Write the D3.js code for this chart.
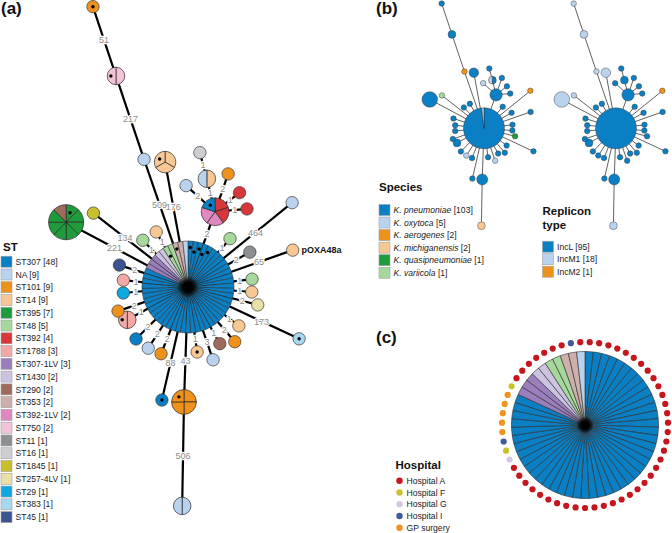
<!DOCTYPE html>
<html><head><meta charset="utf-8">
<script src="https://cdn.jsdelivr.net/npm/d3@7"></script>
<style>
html,body{margin:0;padding:0;background:#fff;}
svg{display:block;font-family:"Liberation Sans",Arial,sans-serif;}
</style></head><body>
<svg id="chart" width="672" height="533"></svg>
<script>
// ---------------- DATA ----------------
const stCategories = ["ST307","NA","ST101","ST14","ST395","ST48","ST392","ST1788","ST307-1LV","ST1430","ST290","ST353","ST392-1LV","ST750","ST11","ST16","ST1845","ST257-4LV","ST29","ST383","ST45"];
const stCounts = [48,9,9,9,7,5,4,3,3,2,2,2,2,2,1,1,1,1,1,1,1];
const speciesCategories = ["K. pneumoniae","K. oxytoca","K. aerogenes","K. michiganensis","K. quasipneumoniae","K. variicola"];
const speciesCounts = [103,5,2,2,1,1];
const repliconCategories = ["IncL","IncM1","IncM2"];
const repliconCounts = [95,18,1];
const hospitalCategories = ["Hospital A","Hospital F","Hospital G","Hospital I","GP surgery"];

// network nodes: isolates grouped by node, SNP distance to parent node
const KP="K. pneumoniae", KO="K. oxytoca", KA="K. aerogenes", KM="K. michiganensis", KQ="K. quasipneumoniae", KV="K. variicola";
const nodes = [
 {id:"hub",   parent:null,   snp:null, st:[["ST307",45],["ST307-1LV",3],["ST1430",2],["ST48",2],["ST353",2],["NA",1]], sp:[[KP,54],[KO,1]], rep:[["IncL",55]], dots:[0,1,2,3,4,50,52]},
 {id:"na1",   parent:"hub",  snp:509, st:[["NA",1]], sp:[[KA,1]], rep:[["IncM1",1]], dots:[]},
 {id:"st750", parent:"na1",  snp:217, st:[["ST750",2]], sp:[[KP,2]], rep:[["IncM1",2]], dots:[1]},
 {id:"top101",parent:"st750",snp:51,  st:[["ST101",1]], sp:[[KP,1]], rep:[["IncM1",1]], dots:[0]},
 {id:"st14c", parent:"hub",  snp:176, st:[["ST14",3]], sp:[[KP,3]], rep:[["IncM1",3]], dots:[2]},
 {id:"st395", parent:"hub",  snp:221, st:[["ST395",7],["ST290",1]], sp:[[KP,8]], rep:[["IncM1",8]], dots:[0]},
 {id:"st1845",parent:"hub",  snp:134, st:[["ST1845",1]], sp:[[KV,1]], rep:[["IncM1",1]], dots:[]},
 {id:"clu",   parent:"hub",  snp:2,   st:[["ST392",2],["ST392-1LV",2],["ST307",1]], sp:[[KP,5]], rep:[["IncL",5]], dots:[4]},
 {id:"cna",   parent:"clu",  snp:2,   st:[["NA",1]], sp:[[KO,1]], rep:[["IncL",1]], dots:[]},
 {id:"chalf", parent:"clu",  snp:1,   st:[["ST14",1],["NA",1]], sp:[[KP,1],[KO,1]], rep:[["IncL",2]], dots:[]},
 {id:"cgrey", parent:"chalf",snp:1,   st:[["ST16",1]], sp:[[KP,1]], rep:[["IncL",1]], dots:[]},
 {id:"cor",   parent:"clu",  snp:2,   st:[["ST101",1]], sp:[[KP,1]], rep:[["IncL",1]], dots:[]},
 {id:"cred1", parent:"clu",  snp:1,   st:[["ST392",1]], sp:[[KP,1]], rep:[["IncL",1]], dots:[]},
 {id:"cred2", parent:"clu",  snp:1,   st:[["ST392",1]], sp:[[KP,1]], rep:[["IncL",1]], dots:[]},
 {id:"nafar", parent:"hub",  snp:464, st:[["NA",1]], sp:[[KA,1]], rep:[["IncM2",1]], dots:[]},
 {id:"poxa",  parent:"hub",  snp:65,  st:[["ST14",1]], sp:[[KP,1]], rep:[["IncL",1]], dots:[], name:"pOXA48a"},
 {id:"g1",    parent:"hub",  snp:1,   st:[["ST48",1]], sp:[[KP,1]], rep:[["IncL",1]], dots:[]},
 {id:"grey11",parent:"hub",  snp:2,   st:[["ST11",1]], sp:[[KP,1]], rep:[["IncL",1]], dots:[]},
 {id:"g2",    parent:"hub",  snp:1,   st:[["ST48",1]], sp:[[KP,1]], rep:[["IncL",1]], dots:[]},
 {id:"p1",    parent:"hub",  snp:1,   st:[["ST14",1]], sp:[[KP,1]], rep:[["IncL",1]], dots:[]},
 {id:"beige", parent:"hub",  snp:2,   st:[["ST257-4LV",1]], sp:[[KQ,1]], rep:[["IncL",1]], dots:[]},
 {id:"st383", parent:"hub",  snp:173, st:[["ST383",1]], sp:[[KP,1]], rep:[["IncL",1]], dots:[0]},
 {id:"p2",    parent:"hub",  snp:1,   st:[["ST14",1]], sp:[[KP,1]], rep:[["IncL",1]], dots:[]},
 {id:"o1",    parent:"hub",  snp:2,   st:[["ST101",1]], sp:[[KP,1]], rep:[["IncL",1]], dots:[]},
 {id:"br",    parent:"hub",  snp:1,   st:[["ST290",1]], sp:[[KP,1]], rep:[["IncL",1]], dots:[]},
 {id:"na2",   parent:"hub",  snp:3,   st:[["NA",1]], sp:[[KO,1]], rep:[["IncL",1]], dots:[]},
 {id:"p3",    parent:"hub",  snp:1,   st:[["ST14",1]], sp:[[KP,1]], rep:[["IncL",1]], dots:[0]},
 {id:"big101",parent:"hub",  snp:43,  st:[["ST101",4]], sp:[[KP,4]], rep:[["IncL",4]], dots:[3]},
 {id:"nabot", parent:"big101",snp:506,st:[["NA",2]], sp:[[KM,2]], rep:[["IncM1",2]], dots:[]},
 {id:"b88",   parent:"hub",  snp:88,  st:[["ST307",1]], sp:[[KP,1]], rep:[["IncL",1]], dots:[0]},
 {id:"o2",    parent:"hub",  snp:2,   st:[["ST101",1]], sp:[[KP,1]], rep:[["IncL",1]], dots:[]},
 {id:"na3",   parent:"hub",  snp:2,   st:[["NA",1]], sp:[[KO,1]], rep:[["IncL",1]], dots:[]},
 {id:"b2",    parent:"hub",  snp:2,   st:[["ST307",1]], sp:[[KP,1]], rep:[["IncL",1]], dots:[]},
 {id:"sal2",  parent:"hub",  snp:1,   st:[["ST1788",2]], sp:[[KP,2]], rep:[["IncL",2]], dots:[1]},
 {id:"o3",    parent:"hub",  snp:2,   st:[["ST101",1]], sp:[[KP,1]], rep:[["IncL",1]], dots:[]},
 {id:"cyan",  parent:"hub",  snp:1,   st:[["ST29",1]], sp:[[KP,1]], rep:[["IncL",1]], dots:[]},
 {id:"sal1",  parent:"hub",  snp:1,   st:[["ST1788",1]], sp:[[KP,1]], rep:[["IncL",1]], dots:[]},
 {id:"navy",  parent:"hub",  snp:2,   st:[["ST45",1]], sp:[[KP,1]], rep:[["IncL",1]], dots:[]},
 {id:"g3",    parent:"hub",  snp:1,   st:[["ST48",1]], sp:[[KP,1]], rep:[["IncL",1]], dots:[]},
 {id:"p4",    parent:"hub",  snp:1,   st:[["ST14",1]], sp:[[KP,1]], rep:[["IncL",1]], dots:[]}
];
// hospital of each isolate in the central node (slice order)
const hubHospitals = [["Hospital A",37],["Hospital G",1],["Hospital F",1],["Hospital I",1],["GP surgery",5],["Hospital F",1],["Hospital A",7],["Hospital I",1],["Hospital A",1]];

// ---------------- LAYOUT (angle clockwise from north, link length) ----------------
const layoutAngle = {na1:341,st750:341.4,top101:341.6,st14c:349.6,st395:298,st1845:308,clu:19.8,cna:312,chalf:346,cgrey:345,cor:19,cred1:52,cred2:85,
  nafar:51,poxa:70.6,g1:41,grey11:60.6,g2:83,p1:94.5,beige:104.4,st383:115,p2:127.4,o1:139.5,br:150.7,na2:161,p3:172,big101:182,nabot:181,
  b88:193,o2:202,na3:213,b2:225,sal2:241.6,o3:251,cyan:264.7,sal1:276,navy:287.7,g3:316,p4:330};
const layoutLength = {na1:135,st750:88,top101:73,st14c:127,st395:138,st1845:120,clu:80,cna:39,chalf:34,cgrey:27,cor:40,cred1:31,cred2:32,
  nafar:134,poxa:111,g1:64,grey11:71,g2:64.5,p1:64,beige:72,st383:122.6,p2:64,o1:72,br:65,na2:77,p3:65.6,big101:115,nabot:104,
  b88:116,o2:72,na3:73,b2:73.5,sal2:69,o3:74,cyan:65,sal1:65,navy:72,g3:65,p4:63.6};

// ---------------- STYLES ----------------
const stPalette = ["#0b7fc4","#b9d3ee","#ef921d","#f7c894","#1e9b3b","#a6d79b","#d7363a","#f3a8a6","#9b7fbd","#cbc3e1","#9d6a5c","#cdb0ab","#e187bf","#f3c4d9","#8d9093","#cdced2","#c8bf2c","#e8e0a6","#10a8e0","#a6d8ef","#3b5390"];
const speciesPalette = ["#0b7fc4","#b9d3ee","#ef921d","#f7c894","#1e9b3b","#a6d79b"];
const repliconPalette = ["#0b7fc4","#b9d3ee","#ef921d"];
const hospitalPalette = ["#c4161c","#c9c22e","#d4c8e0","#3e5a9a","#f0921e"];

const stColor = d3.scaleOrdinal().domain(stCategories).range(stPalette);
const spColor = d3.scaleOrdinal().domain(speciesCategories).range(speciesPalette);
const repColor = d3.scaleOrdinal().domain(repliconCategories).range(repliconPalette);
const hospColor = d3.scaleOrdinal().domain(hospitalCategories).range(hospitalPalette);

const svg = d3.select("#chart");
const defs = svg.append("defs");
const grad = defs.append("radialGradient").attr("id","blob");
grad.append("stop").attr("offset","0%").attr("stop-color","#000").attr("stop-opacity",1);
grad.append("stop").attr("offset","45%").attr("stop-color","#000").attr("stop-opacity",0.95);
grad.append("stop").attr("offset","100%").attr("stop-color","#000").attr("stop-opacity",0);

function expand(runs){const o=[];runs.forEach(([c,n])=>{for(let i=0;i<n;i++)o.push(c);});return o;}
const byId = {}; nodes.forEach(n=>byId[n.id]=n);
const countOf = n => d3.sum(n.st, r=>r[1]);

function positions(origin, lenScale){
  const pos={};
  nodes.forEach(nd=>{
    if(!nd.parent){pos[nd.id]=origin;return;}
    const p=pos[nd.parent], a=layoutAngle[nd.id]*Math.PI/180, L=lenScale(layoutLength[nd.id]);
    pos[nd.id]=[p[0]+L*Math.sin(a), p[1]-L*Math.cos(a)];
  });
  return pos;
}

function drawPie(g, c, r, runs, color, perIsolate, sw){
  const items = perIsolate ? expand(runs).map(k=>({k,n:1})) : runs.map(([k,n])=>({k,n}));
  if(items.length===1){
    g.append("circle").attr("cx",c[0]).attr("cy",c[1]).attr("r",r).attr("fill",color(items[0].k)).attr("stroke","#3a3a3a").attr("stroke-width",sw);
    return;
  }
  const arcs = d3.pie().sort(null).value(d=>d.n)(items);
  const arc = d3.arc().innerRadius(0).outerRadius(r);
  g.append("g").attr("transform",`translate(${c[0]},${c[1]})`).selectAll("path").data(arcs).join("path")
    .attr("d",arc).attr("fill",d=>color(d.data.k)).attr("stroke","#2a2a2a").attr("stroke-width",sw).attr("stroke-linejoin","round");
}

function drawNetwork(origin, lenK, rK, key, color, o){
  const lenScale = d3.scaleLinear().domain([0,1]).range([0,lenK]);
  const rScale = d3.scaleSqrt().domain([0,1]).range([0,rK]);
  const pos = positions(origin, lenScale);
  const g = svg.append("g");
  const eg = g.append("g"), ng = g.append("g"), hg = g.append("g"), lg = g.append("g");
  nodes.filter(n=>n.parent).forEach(n=>{
    const p=pos[n.parent], c=pos[n.id];
    eg.append("line").attr("x1",p[0]).attr("y1",p[1]).attr("x2",c[0]).attr("y2",c[1])
      .attr("stroke",o.edgeColor).attr("stroke-width",o.edgeWidth);
    if(o.labels){
      const rp=rScale(countOf(byId[n.parent])), rc=rScale(countOf(n));
      const dx=c[0]-p[0], dy=c[1]-p[1], L=Math.hypot(dx,dy);
      const t=(rp+(L-rc))/2/L;
      const x=p[0]+dx*t, y=p[1]+dy*t+3.2;
      hg.append("text").attr("x",x).attr("y",y).attr("text-anchor","middle")
        .attr("font-size",9).attr("fill","#fff").attr("stroke","#fff").attr("stroke-width",2.4).text(n.snp);
      lg.append("text").attr("x",x).attr("y",y).attr("text-anchor","middle")
        .attr("font-size",9).attr("fill","#8c8c8c").text(n.snp);
    }
  });
  nodes.forEach(n=>{
    const c=pos[n.id], r=rScale(countOf(n));
    drawPie(ng, c, r, n[key], color, o.perIsolate, n.parent? o.sw : o.hubSw);
    if(o.dots){
      const N=countOf(n);
      n.dots.forEach((di,j)=>{
        let x=c[0], y=c[1];
        if(N>1){const a=(di+0.5)/N*2*Math.PI; const rr = n.parent? r*0.58 : r*(j%2?0.77:0.86); x+=rr*Math.sin(a); y-=rr*Math.cos(a);}
        ng.append("circle").attr("cx",x).attr("cy",y).attr("r",1.7).attr("fill","#000");
      });
    }
    if(o.names && n.name){
      lg.append("text").attr("x",c[0]+r+2.5).attr("y",c[1]+3.2).attr("font-size",9).attr("font-weight","bold").attr("fill","#111").text(n.name);
    }
    if(!n.parent && o.blob){
      ng.append("circle").attr("cx",c[0]).attr("cy",c[1]).attr("r",o.blob).attr("fill","url(#blob)");
    }
  });
  return pos;
}

// Panel (a)
drawNetwork([188,287], 1, 6.2, "st", stColor, {edgeColor:"#000", edgeWidth:2.2, labels:true, perIsolate:true, sw:0.7, hubSw:0.55, dots:true, names:true, blob:11});
// Panel (b)
drawNetwork([484,128.3], 0.445, 6.2*0.445, "sp", spColor, {edgeColor:"#3a3a3a", edgeWidth:0.8, labels:false, perIsolate:false, sw:0.45, hubSw:0.45, dots:false, names:false, blob:0});
drawNetwork([616,128.3], 0.445, 6.2*0.445, "rep", repColor, {edgeColor:"#3a3a3a", edgeWidth:0.8, labels:false, perIsolate:false, sw:0.45, hubSw:0.45, dots:false, names:false, blob:0});

// Panel (c): central node enlarged with hospital ring
(function(){
  const c=[585,425], R=73.5, ringR=83;
  const hub=nodes[0];
  drawPie(svg, c, R, hub.st, stColor, true, 0.6);
  svg.append("circle").attr("cx",c[0]).attr("cy",c[1]).attr("r",9).attr("fill","url(#blob)");
  const hosp=expand(hubHospitals), N=hosp.length;
  const ang=d3.scaleLinear().domain([0,N]).range([0,2*Math.PI]);
  svg.append("g").selectAll("circle").data(hosp).join("circle")
    .attr("cx",(d,i)=>c[0]+ringR*Math.sin(ang(i+0.5))).attr("cy",(d,i)=>c[1]-ringR*Math.cos(ang(i+0.5)))
    .attr("r",3.1).attr("fill",d=>hospColor(d));
})();

// Panel labels
[["(a)",1,14],["(b)",376,14],["(c)",376,343]].forEach(([t,x,y])=>
  svg.append("text").attr("x",x).attr("y",y).attr("font-size",17).attr("font-weight","bold").attr("fill","#111").text(t));

// Legends
function squareLegend(x, y0, step, cats, counts, color, italic){
  const g=svg.append("g");
  cats.forEach((c,i)=>{
    const cy=y0+i*step;
    g.append("rect").attr("x",x).attr("y",cy-5.5).attr("width",11).attr("height",11).attr("fill",color(c)).attr("stroke","#a0a0a0").attr("stroke-width",0.6);
    const t=g.append("text").attr("x",x+14.5).attr("y",cy+3.1).attr("font-size",8.6).attr("fill","#222");
    t.append("tspan").attr("font-style",italic?"italic":"normal").text(c);
    t.append("tspan").text(` [${counts[i]}]`);
  });
}
svg.append("text").attr("x",3).attr("y",251).attr("font-size",11.5).attr("font-weight","bold").attr("fill","#111").text("ST");
squareLegend(1, 261.7, 12.77, stCategories, stCounts, stColor, false);
svg.append("text").attr("x",379).attr("y",191).attr("font-size",11.5).attr("font-weight","bold").attr("fill","#111").text("Species");
squareLegend(379, 210, 12.55, speciesCategories, speciesCounts, spColor, true);
svg.append("text").attr("x",542.5).attr("y",214.5).attr("font-size",11.5).attr("font-weight","bold").attr("fill","#111").text("Replicon");
svg.append("text").attr("x",542.5).attr("y",228.5).attr("font-size",11.5).attr("font-weight","bold").attr("fill","#111").text("type");
squareLegend(542.5, 246.7, 12.5, repliconCategories, repliconCounts, repColor, false);
svg.append("text").attr("x",395.5).attr("y",468.5).attr("font-size",11.5).attr("font-weight","bold").attr("fill","#111").text("Hospital");
const hgl=svg.append("g");
hospitalCategories.forEach((h,i)=>{
  const cy=480.7+i*11.75;
  hgl.append("circle").attr("cx",399.5).attr("cy",cy).attr("r",3.2).attr("fill",hospColor(h));
  hgl.append("text").attr("x",406.5).attr("y",cy+3.1).attr("font-size",8.6).attr("fill","#222").text(h);
});
</script>
</body></html>
